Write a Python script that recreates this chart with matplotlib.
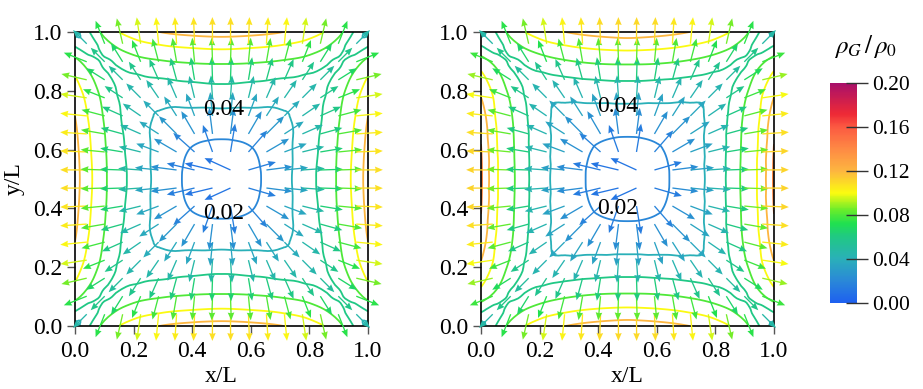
import numpy as np
import matplotlib
matplotlib.use("Agg")
import matplotlib.pyplot as plt
import matplotlib.tri as mtri
from matplotlib.colors import LinearSegmentedColormap, Normalize
from matplotlib.cm import ScalarMappable

plt.rcParams['font.family'] = 'Liberation Serif'
plt.rcParams['mathtext.fontset'] = 'stix'

# grid nodes of the lower-left quarter (mirrored to the whole square)
nodes_q = [0.0, 0.05, 0.1, 0.2, 0.3, 0.4, 0.5]

# rho_G/rho_0, rows = y, cols = x (lower-left quarter)
rho_left_q = [
    [0.035, 0.060, 0.086, 0.109, 0.121, 0.126, 0.128],
    [0.060, 0.048, 0.070, 0.090, 0.098, 0.102, 0.104],
    [0.086, 0.070, 0.058, 0.073, 0.079, 0.082, 0.083],
    [0.109, 0.090, 0.073, 0.047, 0.049, 0.052, 0.054],
    [0.121, 0.098, 0.079, 0.049, 0.037, 0.033, 0.032],
    [0.126, 0.102, 0.082, 0.052, 0.033, 0.019, 0.015],
    [0.128, 0.104, 0.083, 0.054, 0.032, 0.015, 0.008],
]
rho_right_q = [
    [0.036, 0.060, 0.086, 0.109, 0.121, 0.127, 0.130],
    [0.062, 0.050, 0.070, 0.090, 0.099, 0.104, 0.106],
    [0.089, 0.074, 0.058, 0.071, 0.079, 0.083, 0.084],
    [0.116, 0.094, 0.076, 0.046, 0.047, 0.049, 0.050],
    [0.133, 0.100, 0.083, 0.047, 0.034, 0.031, 0.030],
    [0.141, 0.103, 0.085, 0.048, 0.031, 0.018, 0.014],
    [0.143, 0.104, 0.086, 0.048, 0.030, 0.014, 0.008],
]

# arrow direction (degrees below the horizontal, pointing outward) and relative length
angle_q = [
    [45, 70, 85, 90, 90, 90, 90],
    [20, 45, 64, 78, 83, 87, 90],
    [5, 26, 45, 66, 77, 84, 90],
    [0, 12, 24, 45, 62, 77, 90],
    [0, 7, 13, 28, 45, 66, 90],
    [0, 3, 6, 13, 24, 45, 90],
    [0, 0, 0, 0, 0, 0, 0],
]
length_q = [
    [0.8, 1.0, 1.2, 1.25, 1.25, 1.25, 1.25],
    [1.0, 0.9, 1.1, 1.2, 1.2, 1.2, 1.2],
    [1.2, 1.1, 0.9, 1.05, 1.1, 1.1, 1.1],
    [1.25, 1.2, 1.05, 0.9, 1.0, 1.0, 1.0],
    [1.25, 1.2, 1.1, 1.0, 1.0, 1.1, 1.1],
    [1.25, 1.2, 1.1, 1.0, 1.1, 1.3, 1.3],
    [1.25, 1.2, 1.1, 1.0, 1.1, 1.3, 1.3],
]

levels = [0.02, 0.04, 0.06, 0.08, 0.10, 0.12, 0.14]
cbar_ticks = [0.00, 0.04, 0.08, 0.12, 0.16, 0.20]
ticks = [0.0, 0.2, 0.4, 0.6, 0.8, 1.0]
arrow_pos = np.linspace(0.04, 0.96, 16)

cmap = LinearSegmentedColormap.from_list('rho', [
    (0.00, '#1e60f0'), (0.10, '#2a88d8'), (0.20, '#2ab0b8'),
    (0.30, '#20c884'), (0.36, '#20e050'), (0.42, '#66ec2c'),
    (0.50, '#fbfb10'), (0.60, '#fdb640'), (0.70, '#fe8a44'),
    (0.80, '#fc5a42'), (0.86, '#ee2a36'), (1.00, '#a8106a')])
norm = Normalize(0.0, 0.2)


def mirror(q, sx=1.0, sy=1.0):
    q = np.asarray(q, float)
    full = np.hstack([q, sx * q[:, -2::-1]])
    return np.vstack([full, sy * full[-2::-1, :]])


nodes = np.array(nodes_q + [1 - v for v in nodes_q[-2::-1]])
n = len(nodes)
X, Y = np.meshgrid(nodes, nodes)

# split every cell along the diagonal that points to the centre
triangles = []
half = (n - 1) // 2
for cj in range(n - 1):
    for ci in range(n - 1):
        a, b = cj * n + ci, cj * n + ci + 1
        c, d = (cj + 1) * n + ci, (cj + 1) * n + ci + 1
        if (ci < half) == (cj < half):
            triangles += [[a, b, d], [a, d, c]]
        else:
            triangles += [[a, b, c], [b, d, c]]
tri = mtri.Triangulation(X.ravel(), Y.ravel(), triangles)

ang = np.radians(np.asarray(angle_q, float))
u_full = mirror(-np.cos(ang), sx=-1.0)
v_full = mirror(-np.sin(ang), sy=-1.0)
len_full = mirror(length_q)

PX, PY = np.meshgrid(arrow_pos, arrow_pos)
PX, PY = PX.ravel(), PY.ravel()

FS = 17


def draw(ax, rho_q, lab04, lab02):
    rho = mirror(rho_q).ravel()
    refiner = mtri.UniformTriRefiner(tri)
    interp = mtri.CubicTriInterpolator(tri, rho, kind='geom')
    tri_f, rho_f = refiner.refine_field(rho, triinterpolator=interp, subdiv=3)
    ax.tricontour(tri_f, rho_f, levels=levels, cmap=cmap, norm=norm,
                  linewidths=1.3)

    u = mtri.LinearTriInterpolator(tri, u_full.ravel())(PX, PY)
    v = mtri.LinearTriInterpolator(tri, v_full.ravel())(PX, PY)
    ln = mtri.LinearTriInterpolator(tri, len_full.ravel())(PX, PY)
    r = mtri.LinearTriInterpolator(tri, rho)(PX, PY)
    a = np.arctan2(v, u)
    L = 0.075 * ln
    ax.quiver(PX, PY, L * np.cos(a), L * np.sin(a), color=cmap(norm(r)),
              angles='xy', scale_units='xy', scale=1, width=0.0045,
              headwidth=5, headlength=6, headaxislength=5.5,
              clip_on=False, zorder=3)

    ax.text(lab04[0], lab04[1], '0.04', ha='center', va='center',
            fontsize=FS, zorder=4)
    ax.text(lab02[0], lab02[1], '0.02', ha='center', va='center',
            fontsize=FS, zorder=4)

    ax.set_xlim(0, 1)
    ax.set_ylim(0, 1)
    ax.set_xticks(ticks)
    ax.set_yticks(ticks)
    ax.set_xticklabels(['%.1f' % t for t in ticks])
    ax.set_yticklabels(['%.1f' % t for t in ticks])
    ax.tick_params(direction='out', length=6, width=1, color='#555555',
                   labelsize=FS, pad=3)
    ax.tick_params(axis='x', pad=5)
    for s in ax.spines.values():
        s.set_linewidth(1.2)
    ax.set_xlabel('x/L', fontsize=FS, labelpad=3)


fig = plt.figure(figsize=(9.23, 3.89), dpi=100)
ax1 = fig.add_axes([75 / 923, 63 / 389, 293 / 923, 294 / 389])
ax2 = fig.add_axes([481 / 923, 63 / 389, 293 / 923, 294 / 389])

draw(ax1, rho_left_q, (0.508, 0.735), (0.508, 0.384))
draw(ax2, rho_right_q, (0.468, 0.748), (0.468, 0.398))
ax1.set_ylabel('y/L', fontsize=FS, labelpad=6)

cax = fig.add_axes([830 / 923, 86 / 389, 27 / 923, 220 / 389])
cb = fig.colorbar(ScalarMappable(norm=norm, cmap=cmap), cax=cax,
                  ticks=cbar_ticks)
cb.outline.set_visible(False)
cb.ax.set_yticklabels(['%.2f' % t for t in cbar_ticks])
cb.ax.tick_params(direction='inout', length=16, width=1, color='#333333',
                  labelsize=15.5, pad=3)
fig.text(866 / 923, 1 - 47 / 389, r'$\rho_G\,/\,\rho_0$', ha='center',
         va='center', fontsize=18)

fig.savefig('out.png', dpi=100)
